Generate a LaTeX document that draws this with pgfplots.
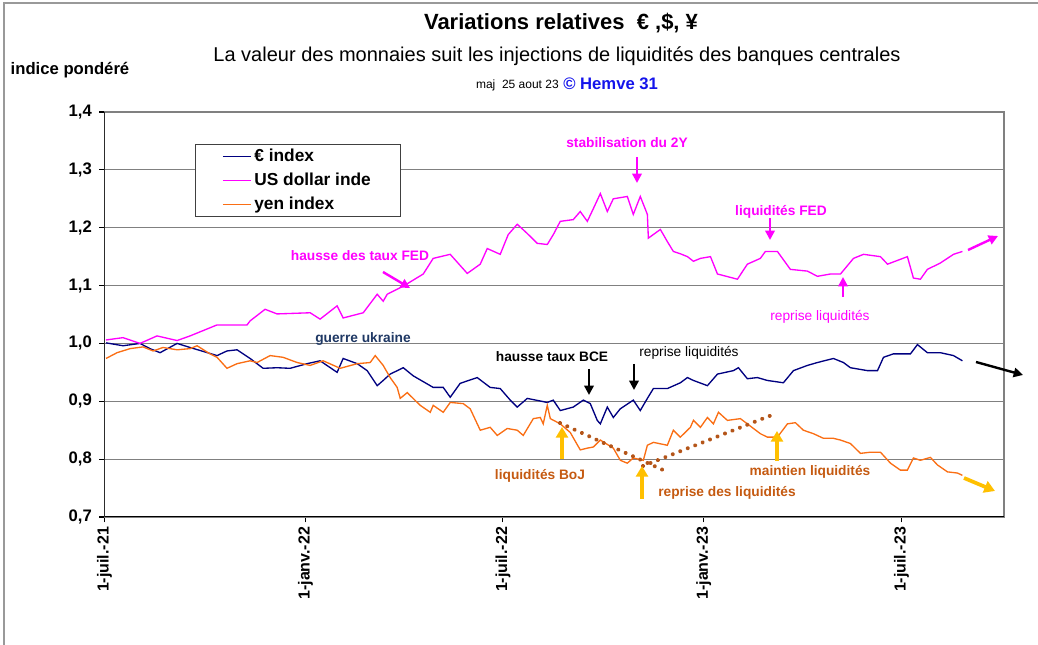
\documentclass[border=0pt]{standalone}
\usepackage{pgfplots}
\pgfplotsset{compat=1.18}
\usepackage{fontspec}
\setmainfont{Liberation Sans}
\usetikzlibrary{arrows.meta}
\definecolor{eurblue}{RGB}{0,0,128}
\definecolor{usdpink}{RGB}{255,0,255}
\definecolor{yenorange}{RGB}{250,110,20}
\definecolor{brownann}{RGB}{197,90,17}
\definecolor{dotbrown}{RGB}{180,85,25}
\definecolor{goldarrow}{RGB}{255,192,0}
\definecolor{ukr}{RGB}{31,56,100}
\definecolor{hemve}{RGB}{20,20,235}
\definecolor{gridgray}{RGB}{128,128,128}
\begin{document}
\begin{tikzpicture}
\path[use as bounding box] (-78.375pt,-96pt) rectangle (700.125pt,387.75pt);
\begin{axis}[
  at={(0,0)}, anchor=south west, scale only axis,
  width=674.625pt, height=303.75pt,
  xmin=0, xmax=824, ymin=0.7, ymax=1.4,
  axis line style={gridgray, line width=0.8pt},
  ymajorgrids, grid style={gridgray, line width=0.8pt},
  xtick={0,184,365,549,730},
  xticklabels={1-juil.-21,1-janv.-22,1-juil.-22,1-janv.-23,1-juil.-23},
  ytick={0.7,0.8,0.9,1.0,1.1,1.2,1.3,1.4},
  tick align=outside, xtick pos=left, ytick pos=left,
  major tick length=4pt, tick style={black, line width=0.8pt},
  /pgf/number format/assume math mode=true,
  yticklabel style={xshift=-2pt, font=\bfseries\fontsize{12.5}{14}\selectfont, /pgf/number format/.cd, fixed, fixed zerofill, precision=1, use comma},
  xticklabel style={rotate=90, anchor=east, font=\bfseries\fontsize{12}{14}\selectfont},
  legend style={at={(0.1006,0.921)}, anchor=north west, draw=black!75, line width=0.8pt, fill=white,
    font=\bfseries\fontsize{13}{15}\selectfont, inner xsep=20pt, inner ysep=1.5pt, row sep=3pt},
  legend cell align=left,
]
\addlegendimage{eurblue, line width=1.1pt, legend image code/.code={\draw[eurblue, line width=1.1pt] (0pt,0pt) -- (21pt,0pt);}}
\addlegendentry{€ index}
\addlegendimage{usdpink, line width=1.1pt, legend image code/.code={\draw[usdpink, line width=1.1pt] (0pt,0pt) -- (21pt,0pt);}}
\addlegendentry{US dollar inde}
\addlegendimage{yenorange, line width=1.1pt, legend image code/.code={\draw[yenorange, line width=1.1pt] (0pt,0pt) -- (21pt,0pt);}}
\addlegendentry{yen index}
\addplot[eurblue, line width=1pt, forget plot] coordinates {
(1.4,1.001)(17,0.996)(32.5,1.0)(41.7,0.991)(50.9,0.984)(66.5,1.0)(78.4,0.993)(103.1,0.979)(112.2,0.987)(121.4,0.989)(133.4,0.974)(145.3,0.957)(158.1,0.958)(170,0.957)(185.6,0.965)(197.5,0.970)(213.1,0.950)(218.6,0.974)(231.5,0.965)(240.6,0.953)(249.8,0.927)(255.3,0.936)(261.7,0.947)(273.7,0.958)(282.8,0.944)(301.1,0.924)(310.3,0.924)(316.7,0.907)(325.8,0.931)(341.4,0.941)(353.3,0.924)(362.5,0.922)(371.7,0.902)(378.1,0.890)(387.3,0.905)(405.6,0.898)(411.1,0.902)(417.5,0.884)(429.4,0.890)(438.6,0.902)(445,0.896)(451.4,0.867)(454.2,0.861)(460.6,0.890)(466.1,0.872)(472.5,0.887)(484.4,0.902)(490.8,0.884)(497.3,0.905)(502.8,0.922)(515.6,0.922)(527.5,0.932)(534,0.941)(539.5,0.936)(552.3,0.927)(561.5,0.947)(576.1,0.953)(580.7,0.958)(588.9,0.939)(598.1,0.941)(607.2,0.936)(621.9,0.932)(631.1,0.953)(643.9,0.962)(653.1,0.967)(667.7,0.974)(676.9,0.967)(683.3,0.958)(698.9,0.953)(708.1,0.953)(713.6,0.976)(722.7,0.982)(738.3,0.982)(744.7,0.998)(753.8,0.984)(765.7,0.984)(777.7,0.979)(785.9,0.970)
};
\addplot[usdpink, line width=1pt, forget plot] coordinates {
(1.4,1.006)(17,1.010)(32.5,1.000)(48.1,1.013)(66.5,1.005)(78.4,1.013)(103.1,1.032)(130.6,1.032)(133.4,1.039)(147.1,1.059)(158.1,1.051)(188.4,1.053)(197.5,1.042)(213.1,1.065)(218.6,1.044)(237,1.053)(249.8,1.085)(255.3,1.073)(259,1.085)(273.7,1.099)(292,1.120)(301.1,1.147)(316.7,1.154)(332.3,1.121)(344.2,1.137)(350.6,1.164)(362.5,1.154)(369.8,1.188)(378.1,1.206)(387.3,1.190)(396.4,1.173)(405.6,1.171)(411.1,1.188)(417.5,1.211)(429.4,1.214)(435.8,1.228)(442.3,1.211)(447.8,1.233)(454.2,1.259)(460.6,1.228)(466.1,1.250)(478.9,1.254)(484.4,1.223)(490.8,1.254)(497.3,1.223)(498.2,1.182)(509.2,1.197)(515.6,1.176)(521.1,1.159)(527.5,1.155)(534,1.150)(539.5,1.142)(545.9,1.147)(555.1,1.150)(561.5,1.120)(579.8,1.111)(588.9,1.137)(600.8,1.147)(605.4,1.159)(616.4,1.159)(628.3,1.128)(643.9,1.125)(653.1,1.116)(665,1.120)(674.2,1.120)(686.1,1.147)(695.3,1.154)(710.8,1.150)(717.3,1.137)(735.5,1.150)(741,1.113)(747.4,1.111)(753.8,1.128)(765.7,1.139)(777.7,1.154)(785.9,1.159)
};
\addplot[yenorange, line width=1pt, forget plot] coordinates {
(1.4,0.974)(11.5,0.984)(23.4,0.991)(35.3,0.994)(44.5,0.987)(53.6,0.993)(66.5,0.989)(78.4,0.991)(84.8,0.996)(96.6,0.982)(103.1,0.976)(112.2,0.957)(121.4,0.965)(133.4,0.970)(139.8,0.967)(151.7,0.979)(163.6,0.976)(176.5,0.967)(188.4,0.962)(200.3,0.970)(215.9,0.957)(231.5,0.965)(243.4,0.967)(248,0.979)(255.3,0.962)(261.7,0.941)(268.1,0.924)(270.9,0.905)(277.3,0.915)(289.2,0.893)(298.4,0.881)(301.1,0.893)(310.3,0.881)(316.7,0.898)(328.6,0.896)(335,0.887)(344.2,0.850)(353.3,0.855)(359.8,0.841)(368.9,0.853)(378.1,0.850)(383.6,0.841)(392.8,0.870)(399.2,0.872)(401.9,0.861)(405.6,0.893)(408.4,0.870)(417.5,0.861)(426.7,0.846)(435.8,0.816)(442.3,0.819)(447.8,0.821)(454.2,0.833)(466.1,0.819)(472.5,0.798)(478.9,0.793)(484.4,0.802)(493.6,0.798)(497.3,0.824)(502.8,0.829)(515.6,0.824)(521.1,0.850)(527.5,0.838)(536.7,0.855)(539.5,0.867)(545.9,0.855)(552.3,0.872)(557.8,0.861)(562.4,0.881)(570.6,0.867)(582.5,0.870)(588.9,0.861)(600.8,0.844)(607.2,0.838)(616.4,0.838)(625.6,0.861)(632.9,0.863)(640.2,0.850)(649.4,0.844)(658.6,0.836)(667.7,0.836)(674.2,0.833)(683.3,0.827)(692.5,0.810)(701.7,0.812)(710.8,0.812)(720,0.793)(729.1,0.781)(735.5,0.781)(741,0.802)(747.4,0.798)(756.6,0.803)(763,0.790)(772.2,0.778)(781.3,0.776)(785.9,0.772)
};
\draw[black, line width=0.9pt] (rel axis cs:0,1) -- (rel axis cs:0,0) -- (rel axis cs:1,0);
\end{axis}
\begin{scope}[shift={(-78.375pt,387.75pt)}, x=0.75pt, y=-0.75pt]
% frame
\draw[gray!80, line width=1.2pt] (4,650) -- (4,3) -- (1045,3);
% titles
\node[font=\bfseries\fontsize{16.5}{18}\selectfont] at (561,23) {Variations relatives~ € ,\$, ¥};
\node[font=\fontsize{15}{17}\selectfont] at (557,56) {La valeur des monnaies suit les injections de liquidités des banques centrales};
\node[anchor=east, font=\fontsize{9}{10}\selectfont, inner sep=0pt] at (559,85) {maj~~25 aout 23};
\node[anchor=west, font=\bfseries\fontsize{12.5}{14}\selectfont, text=hemve, inner sep=0pt] at (563,84) {© Hemve 31};
\node[font=\bfseries\fontsize{12.5}{14}\selectfont] at (70,70) {indice pondéré};
% annotations
\begin{scope}[font=\bfseries\fontsize{10.3}{12}\selectfont]
\node[text=usdpink] at (360,256) {hausse des taux FED};
\node[text=ukr] at (363,339) {guerre ukraine};
\node[text=usdpink] at (627,143) {stabilisation du 2Y};
\node[text=usdpink] at (781,212) {liquidités FED};
\node[text=usdpink, font=\fontsize{10.3}{12}\selectfont] at (820,317) {reprise liquidités};
\node[text=black] at (552,357) {hausse taux BCE};
\node[text=black, font=\fontsize{10.3}{12}\selectfont] at (689,353) {reprise liquidités};
\node[text=brownann] at (540,476) {liquidités BoJ};
\node[text=brownann] at (727,493) {reprise des liquidités};
\node[text=brownann] at (810,472) {maintien liquidités};
\end{scope}
% dotted trend lines
\draw[dotbrown, line width=3pt, line cap=round, dash pattern=on 0.01pt off 6pt] (560,423) -- (663,470);
\draw[dotbrown, line width=3pt, line cap=round, dash pattern=on 0.01pt off 6pt] (643,466) -- (772,415);
% pink arrows
\begin{scope}[usdpink, line width=1.8pt, -{Triangle[length=7pt,width=7pt]}]
\draw (383,272) -- (410,288);
\draw (637,157) -- (637,183);
\draw (770,218) -- (770,240);
\draw (843,297) -- (843,277);
\draw (968,250) -- (998,236);
\end{scope}
% black arrows
\begin{scope}[black, line width=1.8pt, -{Triangle[length=7pt,width=7pt]}]
\draw (589,369) -- (589,395);
\draw (634,364) -- (634,390);
\draw (976,362) -- (1023,375);
\end{scope}
% gold arrows
\begin{scope}[goldarrow, line width=2.8pt, -{Triangle[length=8pt,width=9pt]}]
\draw (562,459) -- (562,427);
\draw (642,499) -- (642,466);
\draw (777,461) -- (777,431);
\draw (964,478) -- (995,491);
\end{scope}
\end{scope}
\end{tikzpicture}
\end{document}
